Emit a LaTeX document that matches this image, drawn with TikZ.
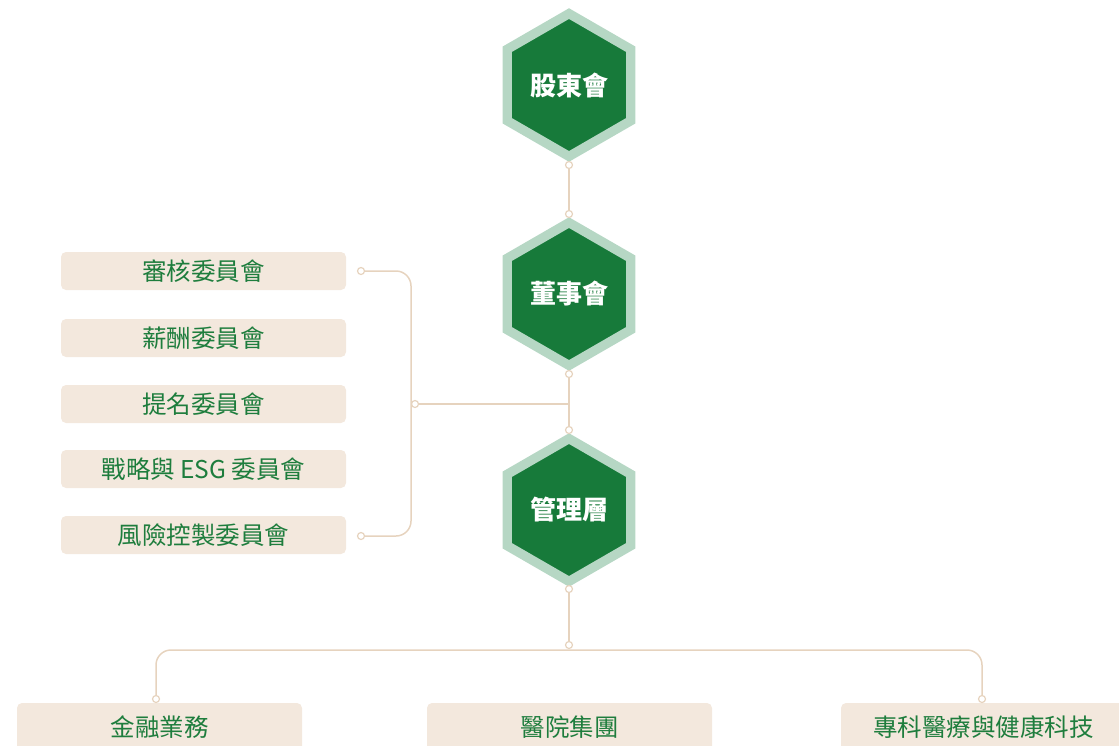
\documentclass[tikz,border=0pt]{standalone}
\usepackage{fontspec}
\setmainfont{Noto Sans CJK TC}
\usetikzlibrary{shapes.geometric}
\definecolor{hexgreen}{HTML}{177A3A}
\definecolor{hexrim}{HTML}{B6D7C4}
\definecolor{boxfill}{HTML}{F3E8DD}
\definecolor{linktan}{HTML}{E6D3BE}
\definecolor{textgreen}{HTML}{1E7D3D}

\begin{document}
\begin{tikzpicture}[x=1pt,y=-1pt]
    \tikzstyle{hex}=[regular polygon, regular polygon sides=6, regular polygon rotate=30, minimum size=142.8pt, inner sep=0pt, fill=hexgreen, draw=hexrim, line width=9.3pt, text=white, font=\fontsize{26}{26}\selectfont\bfseries]
    \tikzstyle{box}=[rectangle, rounded corners=5pt, fill=boxfill, minimum width=285pt, minimum height=38pt, text=textgreen, font=\fontsize{24.5}{24.5}\selectfont]
    \tikzstyle{dot}=[circle, draw=linktan, fill=white, line width=1.2pt, minimum size=7pt, inner sep=0pt]
    \tikzstyle{link}=[draw=linktan, line width=1.5pt]
    \useasboundingbox (0,0) rectangle (1119,745);
    \clip (0,0) rectangle (1119,745);
    % the three levels
    \node[hex] (sh) at (569,85) {股東會};
    \node[hex] (board) at (569,294) {董事會};
    \node[hex] (mgmt) at (569,510) {管理層};
    % committees
    \node[box] (audit) at (203.5,271) {審核委員會};
    \node[box] (remun) at (203.5,338) {薪酬委員會};
    \node[box] (nomin) at (203.5,404) {提名委員會};
    \node[box] (esg) at (203.5,469) {戰略與 ESG 委員會};
    \node[box] (risk) at (203.5,535) {風險控製委員會};
    % business lines
    \node[box, minimum height=48pt] (fin) at (159.5,727) {金融業務};
    \node[box, minimum height=48pt] (hosp) at (569.5,727) {醫院集團};
    \node[box, minimum height=48pt] (tech) at (983.5,727) {專科醫療與健康科技};
    % joints
    \node[dot] (d1) at (569,165) {};
    \node[dot] (d2) at (569,214) {};
    \node[dot] (d3) at (569,374) {};
    \node[dot] (d4) at (569,430) {};
    \node[dot] (d5) at (569,589) {};
    \node[dot] (d6) at (569,645) {};
    \node[dot] (dAudit) at (361,271) {};
    \node[dot] (dRisk) at (361,536) {};
    \node[dot] (dMid) at (415,404) {};
    \node[dot] (dFin) at (156,699) {};
    \node[dot] (dTech) at (982,699) {};
    \coordinate (jb) at (569,404);
    \coordinate (br) at (411,404);
    \coordinate (jm) at (569,650);
    \draw[link] (d1) -- (d2);
    \draw[link] (d3) -- (d4);
    \draw[link] (d5) -- (d6);
    \draw[link] (jb) -- (dMid);
    \draw[link, rounded corners=15pt] (dAudit) -| (br) |- (dRisk);
    \draw[link, rounded corners=15pt] (dFin) |- (jm) -| (dTech);
\end{tikzpicture}
\end{document}
